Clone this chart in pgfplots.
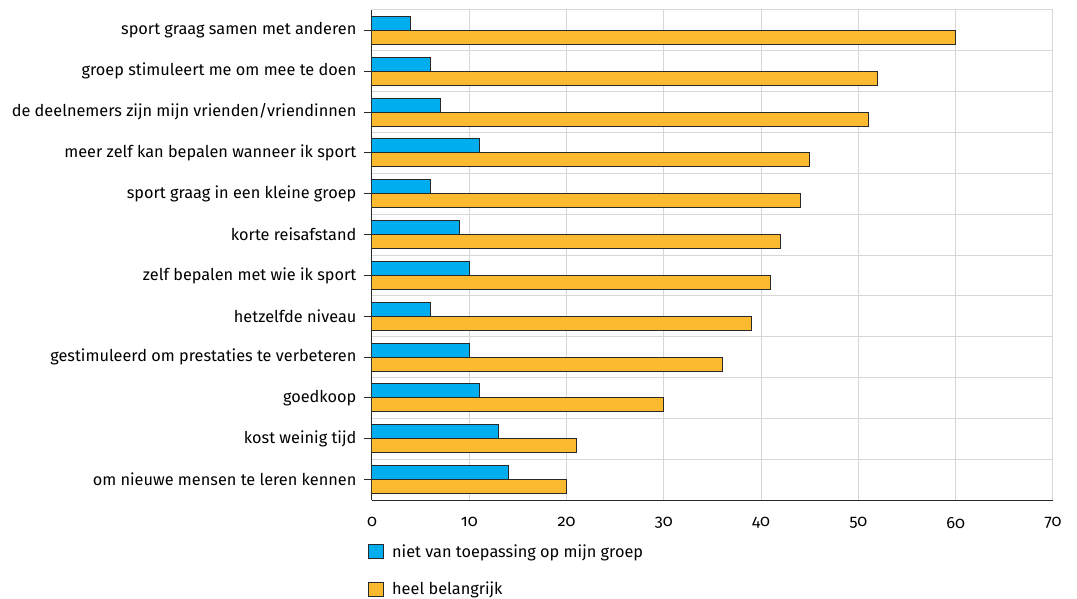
\documentclass[border=0pt]{standalone}
\usepackage{pgfplots}
\pgfplotsset{compat=1.18}
\usepackage{fontspec}
\setmainfont{Fira Sans}[Numbers=OldStyle]
\definecolor{cblue}{RGB}{0,174,239}
\definecolor{corange}{RGB}{251,186,48}
\definecolor{cgrid}{RGB}{215,215,215}
\definecolor{cline}{RGB}{40,40,40}
\begin{document}
\fontsize{16.3}{20}\selectfont
\begin{tikzpicture}
\path[use as bounding box] (-372pt,-98pt) rectangle (705pt,500pt);
\begin{axis}[
  scale only axis,
  width=681pt, height=490pt,
  xmin=0, xmax=70,
  ymin=-0.5, ymax=11.5,
  xbar, bar width=14pt,
  xtick={0,10,...,70},
  ytick={0,...,11},
  yticklabels={om nieuwe mensen te leren kennen, kost weinig tijd, goedkoop, gestimuleerd om prestaties te verbeteren, hetzelfde niveau, zelf bepalen met wie ik sport, korte reisafstand, sport graag in een kleine groep, meer zelf kan bepalen wanneer ik sport, de deelnemers zijn mijn vrienden/vriendinnen, groep stimuleert me om mee te doen, sport graag samen met anderen},
  minor ytick={-0.5,0.5,...,11.5},
  xmajorgrids, yminorgrids,
  major grid style={cgrid, line width=1pt},
  minor grid style={cgrid, line width=1pt},
  axis x line*=bottom, axis y line*=left,
  axis line style={cline, line width=1pt, -},
  xtick style={draw=none},
  ytick style={cline, line width=1pt},
  minor tick length=0pt,
  tick align=outside, major tick length=8pt,
  yticklabel style={font=\fontsize{16.3}{20}\selectfont, xshift=-2pt},
  xticklabel style={font=\fontsize{16.3}{20}\selectfont, yshift=-4pt},
  /pgf/number format/assume math mode=true,
  legend style={at={(0,-0.082)}, anchor=north west, xshift=-4pt, draw=none, fill=none,
    font=\fontsize{16.3}{20}\selectfont, row sep=18pt, inner xsep=0pt,
    legend cell align=left},
  legend image code/.code={\draw[#1, line width=1pt] (0pt,-7pt) rectangle (15pt,7pt); \path (21pt,0pt);},
]
\addplot[fill=cblue, draw=cline, line width=1pt, bar shift=7pt] coordinates {
 (14,0) (13,1) (11,2) (10,3) (6,4) (10,5) (9,6) (6,7) (11,8) (7,9) (6,10) (4,11)};
\addlegendentry{niet van toepassing op mijn groep}
\addplot[fill=corange, draw=cline, line width=1pt, bar shift=-7pt] coordinates {
 (20,0) (21,1) (30,2) (36,3) (39,4) (41,5) (42,6) (44,7) (45,8) (51,9) (52,10) (60,11)};
\addlegendentry{heel belangrijk}
\end{axis}
\end{tikzpicture}
\end{document}
